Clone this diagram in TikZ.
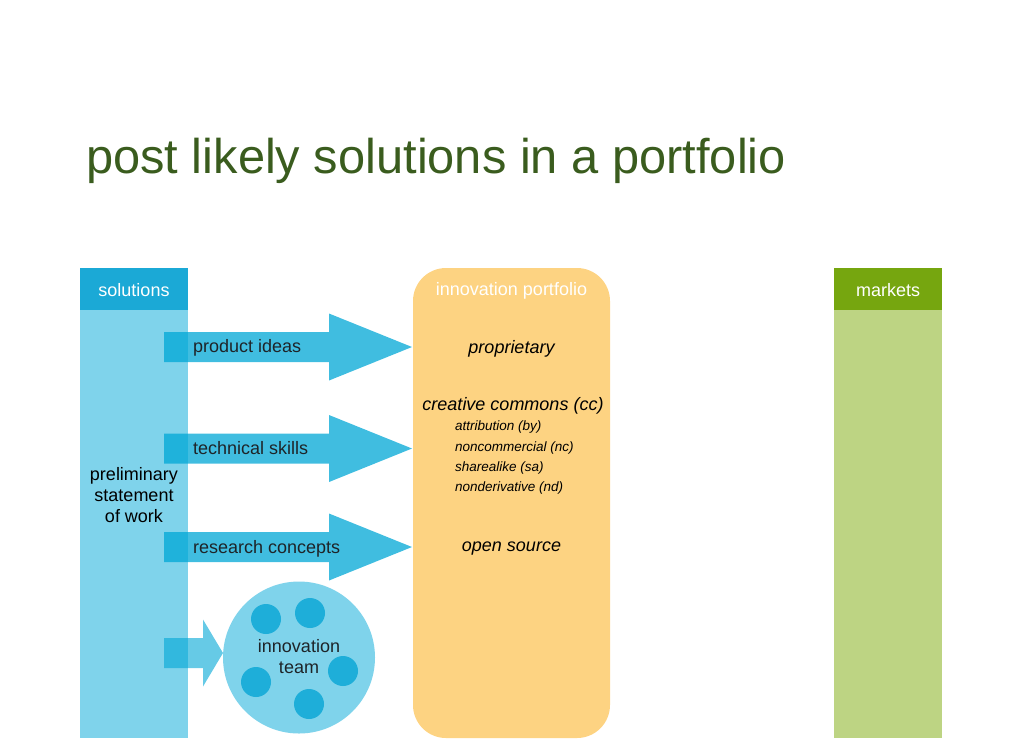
\documentclass[tikz,border=0pt]{standalone}
\usepackage{fontspec}
\setmainfont{Liberation Sans}
\definecolor{solhead}{RGB}{27,169,214}
\definecolor{solbody}{RGB}{127,211,235}
\definecolor{arrowc}{RGB}{0,167,214}
\definecolor{dotc}{RGB}{30,174,217}
\definecolor{portc}{RGB}{253,211,130}
\definecolor{mkthead}{RGB}{118,166,15}
\definecolor{mktbody}{RGB}{189,212,131}
\definecolor{titlec}{RGB}{58,92,30}
\definecolor{txtc}{RGB}{30,36,40}
\newcommand{\blockarrow}[5]{%
  \fill[arrowc, fill opacity=#5] (#2,{#1-15}) -- (#3,{#1-15}) -- (#3,{#1-33.5}) -- (#4,#1) -- (#3,{#1+33.5}) -- (#3,{#1+15}) -- (#2,{#1+15}) -- cycle;}
\tikzset{
  fs18/.style={font=\fontsize{18}{21}\selectfont},
  fs14/.style={font=\fontsize{13.5}{20}\selectfont\itshape},
  colbox/.style={inner sep=0, outer sep=0, anchor=north west, minimum width=108},
  headtxt/.style={fs18, text=white, inner sep=0},
  lbl/.style={fs18, text=txtc, inner sep=0, anchor=west},
  itm/.style={fs18, font=\fontsize{18}{21}\selectfont\itshape, text=black, inner sep=0},
  subitm/.style={fs14, text=black, inner sep=0, anchor=west},
  dot/.style={circle, fill=dotc, minimum size=30, inner sep=0},
}
\begin{document}
\begin{tikzpicture}[x=1pt,y=-1pt]
\useasboundingbox (0,0) rectangle (1024,748);
% title
\node[anchor=base west, inner sep=0, text=titlec, font=\fontsize{48.8}{56}\selectfont] (title) at (86,173) {post likely solutions in a portfolio};
% solutions column
\node[colbox, fill=solbody, minimum height=428] (solbody) at (80,310) {};
\node[colbox, fill=solhead, minimum height=42] (solhead) at (80,268) {};
\node[headtxt] (soltxt) at (134,290) {solutions};
\node[fs18, text=black, align=center, inner sep=0] (prelim) at (134,495) {preliminary\\statement\\of work};
% portfolio
\node[inner sep=0, outer sep=0, anchor=north west, fill=portc, rounded corners=33, minimum width=197, minimum height=470] (port) at (413,268) {};
\node[headtxt] (porttxt) at (511.5,290.5) {innovation portfolio};
\node[itm] (prop) at (511.5,348.5) {proprietary};
\node[itm] (cc) at (513,406) {creative commons (cc)};
\node[subitm] (by) at (455,426.5) {attribution (by)};
\node[subitm] (nc) at (455,447.5) {noncommercial (nc)};
\node[subitm] (sa) at (455,467.5) {sharealike (sa)};
\node[subitm] (nd) at (455,487.5) {nonderivative (nd)};
\node[itm] (os) at (511.5,549) {open source};
% markets
\node[colbox, fill=mktbody, minimum height=428] (mktbody) at (834,310) {};
\node[colbox, fill=mkthead, minimum height=42] (mkthead) at (834,268) {};
\node[headtxt] (mkttxt) at (888,290) {markets};
% team circle
\node[circle, fill=solbody, minimum size=152, inner sep=0] (team) at (299,657.5) {};
\node[dot] (d1) at (266,619) {};
\node[dot] (d2) at (310,613) {};
\node[dot] (d3) at (343,671) {};
\node[dot] (d4) at (309,704) {};
\node[dot] (d5) at (256,682) {};
\node[fs18, text=txtc, align=center, inner sep=0] (teamtxt) at (299,656.5) {innovation\\team};
% arrows
\blockarrow{347}{164}{329}{412}{0.75}
\blockarrow{448.5}{164}{329}{412}{0.75}
\blockarrow{547}{164}{329}{412}{0.75}
\blockarrow{653}{164}{203}{223}{0.6}
\node[lbl] (a1) at (193,347.5) {product ideas};
\node[lbl] (a2) at (193,448) {technical skills};
\node[lbl] (a3) at (193,548.5) {research concepts};
\end{tikzpicture}
\end{document}
